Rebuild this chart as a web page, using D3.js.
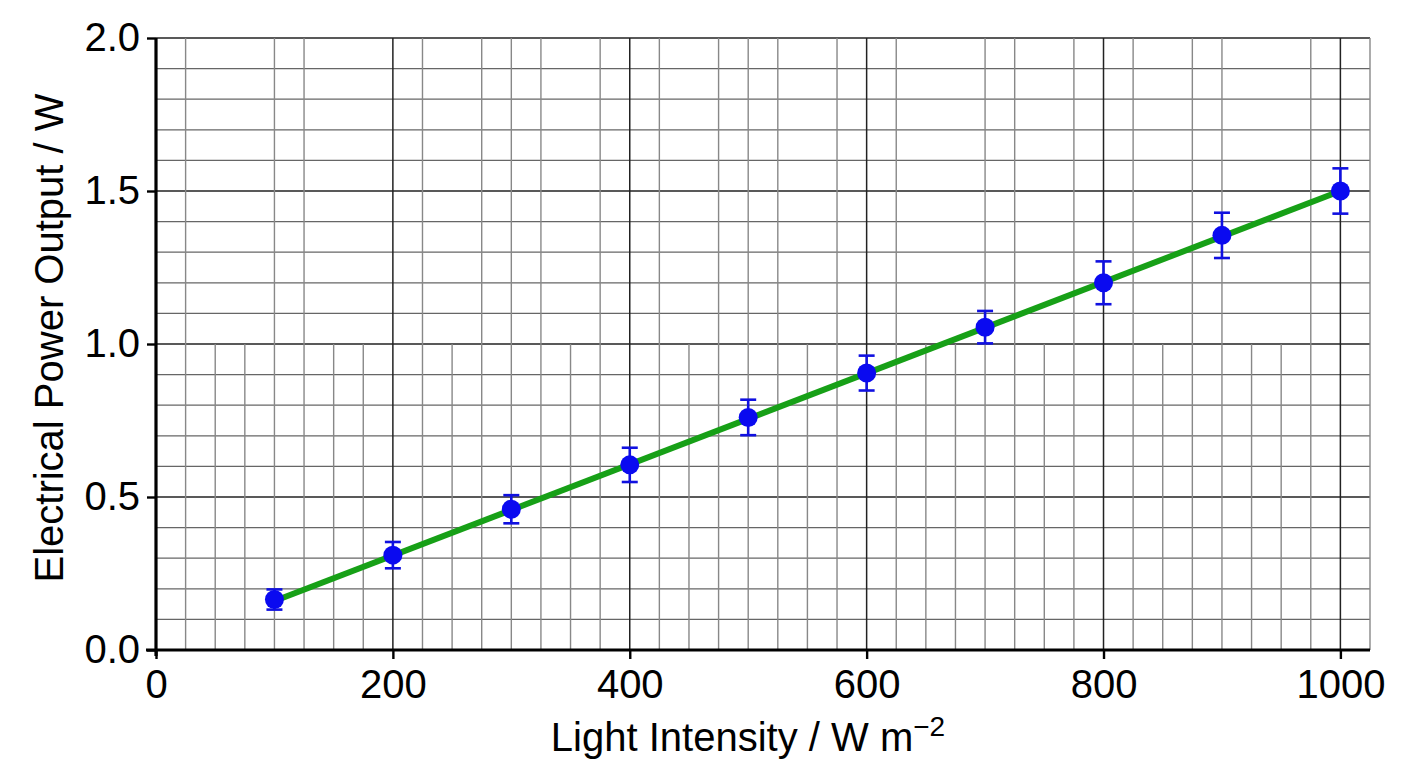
<!DOCTYPE html>
<html>
<head>
<meta charset="utf-8">
<script src="https://cdn.jsdelivr.net/npm/d3@7"></script>
<style>
  html, body { margin: 0; padding: 0; background: #fff; }
  svg { display: block; font-family: "Liberation Sans", Arial, sans-serif; }
</style>
</head>
<body>
<svg id="chart" width="1408" height="768"></svg>
<script>
// ---- data ----
const intensity = [100, 200, 300, 400, 500, 600, 700, 800, 900, 1000];
const power     = [0.165, 0.31, 0.46, 0.605, 0.76, 0.905, 1.055, 1.20, 1.355, 1.50];
const powerErr  = [0.033, 0.043, 0.046, 0.056, 0.058, 0.057, 0.053, 0.07, 0.074, 0.074];
const fitX = [100, 1000];
const fitY = [0.16, 1.50];
const xTicks = [0, 200, 400, 600, 800, 1000];
const yTicks = [0, 0.5, 1.0, 1.5, 2.0];
const xDomain = [0, 1025];
const yDomain = [0, 2];
const xMinorStep = 25;
const yMinorStep = 0.1;
const yGridSplit = 1.0;
// vertical grid lines present in the upper half of the grid (above 1.0)
const upperGridX = [25, 100, 125, 200, 225, 275, 300, 325, 375, 400, 425, 475, 500, 525,
                    575, 600, 625, 700, 725, 775, 800, 825, 875, 900, 975, 1000, 1025];
const xTitle = "Light Intensity / W m";
const xTitleSup = "\u22122";
const yTitle = "Electrical Power Output / W";

(function () {
// ---- layout ----
const svg = d3.select("#chart");
const pL = 156, pR = 1370, pT = 38, pB = 650;
const x = d3.scaleLinear().domain(xDomain).range([pL, pR]);
const y = d3.scaleLinear().domain(yDomain).range([pB, pT]);

const grid = svg.append("g");

// horizontal grid lines every 0.1
const yLines = d3.range(1, Math.round(yDomain[1] / yMinorStep) + 1).map(i => +(i * yMinorStep).toFixed(2));
const isHalf = d => Math.abs(d * 2 - Math.round(d * 2)) < 1e-6;
grid.selectAll("line.h").data(yLines).join("line")
  .attr("x1", x(xDomain[0])).attr("x2", x(xDomain[1]))
  .attr("y1", d => y(d)).attr("y2", d => y(d))
  .attr("stroke", d => isHalf(d) ? "#222" : "#666")
  .attr("stroke-width", d => isHalf(d) ? 1.6 : 1.3);

// lower vertical grid lines every 25
const lowerX = d3.range(1, Math.round(xDomain[1] / xMinorStep) + 1).map(i => i * xMinorStep);
const isMajorX = d => d % 200 === 0;
grid.selectAll("line.vl").data(lowerX.filter(d => !isMajorX(d))).join("line")
  .attr("x1", d => x(d)).attr("x2", d => x(d))
  .attr("y1", y(0)).attr("y2", y(yGridSplit))
  .attr("stroke", "#888").attr("stroke-width", 1.4);
grid.selectAll("line.vu").data(upperGridX.filter(d => !isMajorX(d))).join("line")
  .attr("x1", d => x(d)).attr("x2", d => x(d))
  .attr("y1", y(yGridSplit)).attr("y2", y(yDomain[1]))
  .attr("stroke", "#888").attr("stroke-width", 1.4);
// major vertical lines
grid.selectAll("line.vm").data(xTicks.filter(d => d > 0)).join("line")
  .attr("x1", d => x(d)).attr("x2", d => x(d))
  .attr("y1", y(0)).attr("y2", y(yDomain[1]))
  .attr("stroke", "#222").attr("stroke-width", 1.5);

// ---- fit line ----
svg.append("path")
  .datum(fitX.map((d, i) => [d, fitY[i]]))
  .attr("d", d3.line().x(d => x(d[0])).y(d => y(d[1])))
  .attr("fill", "none").attr("stroke", "#17a017").attr("stroke-width", 6);

// ---- error bars & points ----
const pts = intensity.map((d, i) => ({ x: d, y: power[i], e: powerErr[i] }));
const eb = svg.append("g").attr("stroke", "#1010e0").attr("stroke-width", 2.6);
eb.selectAll("line.bar").data(pts).join("line")
  .attr("x1", d => x(d.x)).attr("x2", d => x(d.x))
  .attr("y1", d => y(d.y - d.e)).attr("y2", d => y(d.y + d.e));
eb.selectAll("line.capT").data(pts).join("line")
  .attr("x1", d => x(d.x) - 8).attr("x2", d => x(d.x) + 8)
  .attr("y1", d => y(d.y + d.e)).attr("y2", d => y(d.y + d.e));
eb.selectAll("line.capB").data(pts).join("line")
  .attr("x1", d => x(d.x) - 8).attr("x2", d => x(d.x) + 8)
  .attr("y1", d => y(d.y - d.e)).attr("y2", d => y(d.y - d.e));
svg.append("g").selectAll("circle").data(pts).join("circle")
  .attr("cx", d => x(d.x)).attr("cy", d => y(d.y)).attr("r", 9.5)
  .attr("fill", "#0a0af0");

// ---- axes ----
const xAxis = svg.append("g").attr("transform", `translate(0,${pB})`)
  .call(d3.axisBottom(x).tickValues(xTicks).tickSize(9).tickSizeOuter(0).tickPadding(11)
        .tickFormat(d3.format("d")));
const yAxis = svg.append("g").attr("transform", `translate(${pL},0)`)
  .call(d3.axisLeft(y).tickValues(yTicks).tickSize(9).tickSizeOuter(0).tickPadding(7)
        .tickFormat(d3.format(".1f")));
[xAxis, yAxis].forEach(a => {
  a.select(".domain").attr("stroke", "#000").attr("stroke-width", 3.2);
  a.selectAll(".tick line").attr("stroke", "#000").attr("stroke-width", 2.4);
  a.selectAll(".tick text").attr("fill", "#000").style("font-size", "40px")
    .style("font-family", "'Liberation Sans', Arial, sans-serif");
});
xAxis.select(".domain").attr("d", `M${pL - 10},0H${pR}`);
yAxis.select(".domain").attr("d", `M0,${pB + 6}V${pT}`);

// ---- titles ----
const xt = svg.append("text")
  .attr("x", (pL + pR) / 2 - 15).attr("y", 751)
  .attr("text-anchor", "middle").style("font-size", "40px").attr("fill", "#000");
xt.append("tspan").text(xTitle);
xt.append("tspan").text(xTitleSup).attr("dy", -15).style("font-size", "28px");

svg.append("text")
  .attr("transform", `translate(63,${(pT + pB) / 2 - 6}) rotate(-90)`)
  .attr("text-anchor", "middle").style("font-size", "40px").attr("fill", "#000")
  .text(yTitle);
})();
</script>
</body>
</html>
